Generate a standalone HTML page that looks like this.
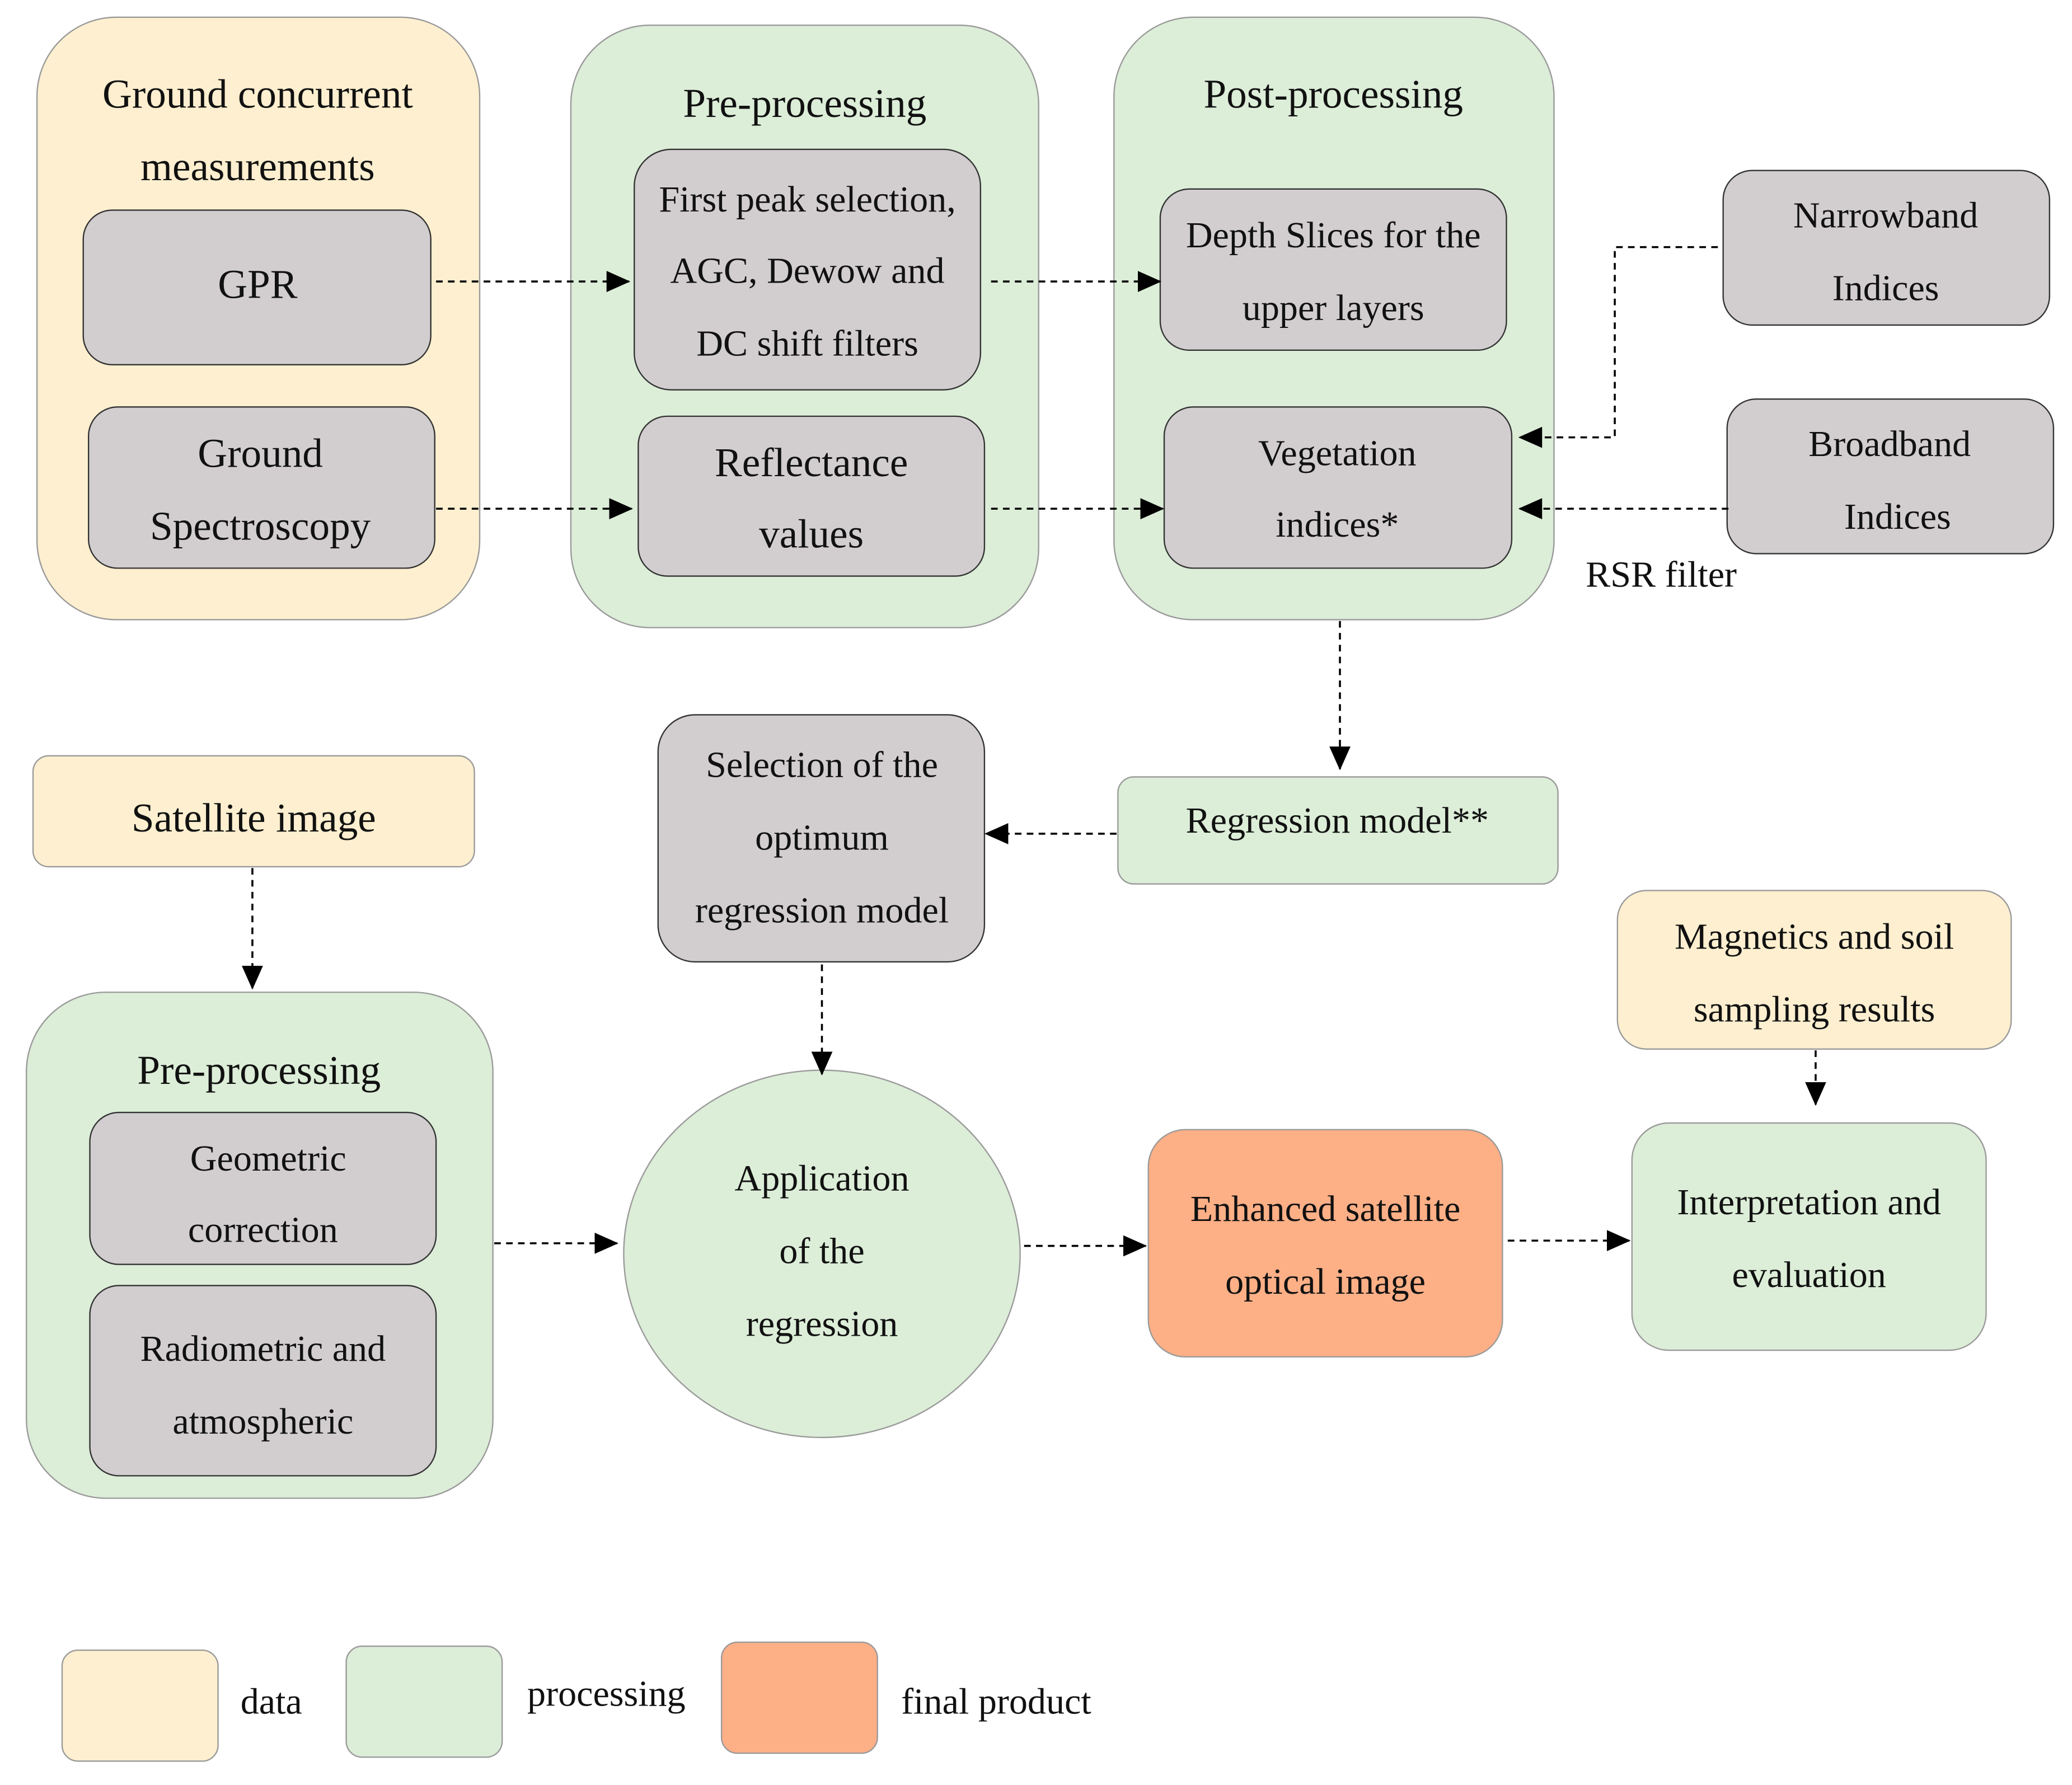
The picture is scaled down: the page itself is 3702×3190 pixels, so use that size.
<!DOCTYPE html>
<html><head><meta charset="utf-8"><style>
html,body{margin:0;padding:0;background:#fff;}
svg{display:block;}
text{font-family:"Liberation Serif",serif;font-size:28px;fill:#111;text-anchor:middle;dominant-baseline:central;}
.t{font-size:31px;}
.y{fill:#FDEFCF;stroke:#9a9a9a;stroke-width:1}
.g{fill:#DCEDD8;stroke:#9a9a9a;stroke-width:1}
.s{fill:#D2CECF;stroke:#333;stroke-width:1}
.o{fill:#FDAF86;stroke:#9a9a9a;stroke-width:1}
.l{fill:none;stroke:#000;stroke-width:1.5;stroke-dasharray:5 4}
</style></head><body>
<svg width="3702" height="3190" viewBox="0 0 1568 1351" xmlns="http://www.w3.org/2000/svg">
<defs>
<marker id="b" markerWidth="18" markerHeight="18" refX="17" refY="9" orient="auto" markerUnits="userSpaceOnUse"><path d="M0,1 L18,9 L0,17 z" fill="#000"/></marker></defs>
<g transform="translate(0,-1)">
<rect class="y" x="28" y="14" width="335" height="456" rx="60"/>
<text class="t" x="195" y="72">Ground concurrent</text><text class="t" x="195" y="127">measurements</text>
<rect class="s" x="63" y="160" width="263" height="117" rx="22"/><text class="t" x="195" y="216">GPR</text>
<rect class="s" x="67" y="309" width="262" height="122" rx="22"/><text class="t" x="197" y="344">Ground</text><text class="t" x="197" y="399">Spectroscopy</text>

<rect class="g" x="432" y="20" width="354" height="456" rx="60"/>
<text class="t" x="609" y="79">Pre-processing</text>
<rect class="s" x="480" y="114" width="262" height="182" rx="28"/>
<text x="611" y="152">First peak selection,</text><text x="611" y="206">AGC, Dewow and</text><text x="611" y="261">DC shift filters</text>
<rect class="s" x="483" y="316" width="262" height="121" rx="22"/>
<text class="t" x="614" y="351">Reflectance</text><text class="t" x="614" y="405">values</text>

<rect class="g" x="843" y="14" width="333" height="456" rx="60"/>
<text class="t" x="1009" y="72">Post-processing</text>
<rect class="s" x="878" y="144" width="262" height="122" rx="22"/>
<text x="1009" y="179">Depth Slices for the</text><text x="1009" y="234">upper layers</text>
<rect class="s" x="881" y="309" width="263" height="122" rx="22"/>
<text x="1012" y="344">Vegetation</text><text x="1012" y="398">indices*</text>

<rect class="s" x="1304" y="130" width="247" height="117" rx="22"/>
<text x="1427" y="164">Narrowband</text><text x="1427" y="219">Indices</text>
<rect class="s" x="1307" y="303" width="247" height="117" rx="22"/>
<text x="1430" y="337">Broadband</text><text x="1436" y="392">Indices</text>
<text x="1200" y="436" style="text-anchor:start">RSR filter</text>
</g>
<path class="l" d="M330,213 H476" marker-end="url(#b)"/>
<path class="l" d="M330,385 H478" marker-end="url(#b)"/>
<path class="l" d="M750,213 H878" marker-end="url(#b)"/>
<path class="l" d="M750,385 H880" marker-end="url(#b)"/>
<path class="l" d="M1300,187 H1222 V331 H1150" marker-end="url(#b)"/>
<path class="l" d="M1308,385 H1150" marker-end="url(#b)"/>
<path class="l" d="M1014,470 V582" marker-end="url(#b)"/>
<g transform="translate(0,-1)">
<rect class="g" x="846" y="589" width="333" height="81" rx="12"/>
<text x="1012" y="622">Regression model**</text>
<rect class="s" x="498" y="542" width="247" height="187" rx="28"/>
<text x="622" y="580">Selection of the</text><text x="622" y="635">optimum</text><text x="622" y="690">regression model</text>

<rect class="y" x="25" y="573" width="334" height="84" rx="12"/>
<text class="t" x="192" y="620">Satellite image</text>

<rect class="g" x="20" y="752" width="353" height="383" rx="60"/>
<text class="t" x="196" y="811">Pre-processing</text>
<rect class="s" x="68" y="843" width="262" height="115" rx="22"/>
<text x="203" y="878">Geometric</text><text x="199" y="932">correction</text>
<rect class="s" x="68" y="974" width="262" height="144" rx="22"/>
<text x="199" y="1022">Radiometric and</text><text x="199" y="1077">atmospheric</text>

<ellipse class="g" cx="622" cy="950" rx="150" ry="139"/>
<text x="622" y="893">Application</text><text x="622" y="948">of the</text><text x="622" y="1003">regression</text>

<rect class="o" x="869" y="856" width="268" height="172" rx="28"/>
<text x="1003" y="916">Enhanced satellite</text><text x="1003" y="971">optical image</text>

<rect class="g" x="1235" y="851" width="268" height="172" rx="28"/>
<text x="1369" y="911">Interpretation and</text><text x="1369" y="966">evaluation</text>

<rect class="y" x="1224" y="675" width="298" height="120" rx="22"/>
<text x="1373" y="710">Magnetics and soil</text><text x="1373" y="765">sampling results</text>

<rect class="y" x="47" y="1250" width="118" height="84" rx="12"/>
<text x="182" y="1289" style="text-anchor:start">data</text>
<rect class="g" x="262" y="1247" width="118" height="84" rx="12"/>
<text x="399" y="1283" style="text-anchor:start">processing</text>
<rect class="o" x="546" y="1244" width="118" height="84" rx="12"/>
<text x="682" y="1289" style="text-anchor:start">final product</text>
</g>
<path class="l" d="M845,631 H746" marker-end="url(#b)"/>
<path class="l" d="M622,730 V813" marker-end="url(#b)"/>
<path class="l" d="M191,657 V748" marker-end="url(#b)"/>
<path class="l" d="M374,941 H467" marker-end="url(#b)"/>
<path class="l" d="M775,943 H867" marker-end="url(#b)"/>
<path class="l" d="M1141,939 H1233" marker-end="url(#b)"/>
<path class="l" d="M1374,795 V836" marker-end="url(#b)"/>
</svg>
</body></html>
